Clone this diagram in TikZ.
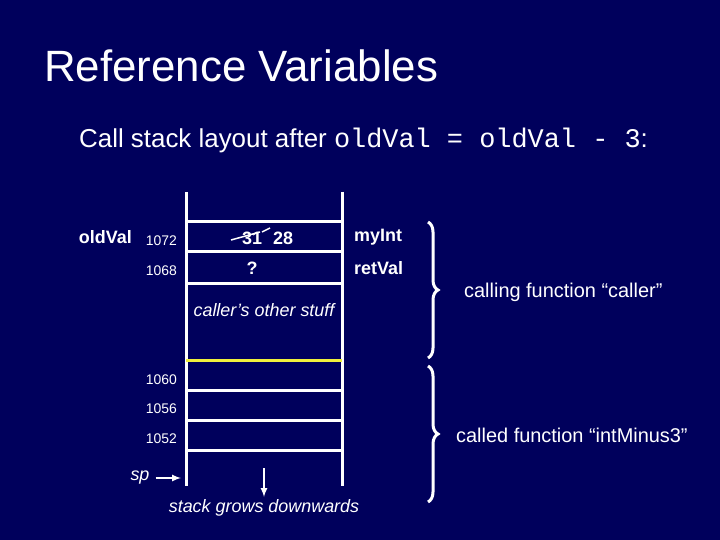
\documentclass[tikz,border=0pt]{standalone}
\usepackage{fontspec}
\setmainfont{Liberation Sans}
\setmonofont{Liberation Mono}
\usetikzlibrary{decorations.pathreplacing}
\definecolor{bg}{RGB}{0,0,92}
\definecolor{hl}{RGB}{240,240,60}
\begin{document}
\begin{tikzpicture}[x=1bp,y=-1bp,
  every node/.style={text=white,inner sep=0pt},
  sline/.style={draw=white,line width=3bp},
  addr/.style={font=\fontsize{14}{14}\selectfont,anchor=east},
  lbl/.style={font=\bfseries\fontsize{18}{18}\selectfont},
  brace/.style={draw=white,line width=3bp,decorate,decoration={brace,amplitude=10bp}},
  arr/.style={draw=white,line width=2bp,-latex}]
\fill[bg] (0,0) rectangle (720,540);
\useasboundingbox (0,0) rectangle (720,540);
\node[anchor=west,font=\fontsize{44}{44}\selectfont] (title) at (44,66) {Reference Variables};
\node[anchor=west,font=\fontsize{26}{26}\selectfont] (sub) at (79,140) {Call stack layout after \texttt{\fontsize{27}{27}\selectfont oldVal = oldVal - 3}:};
% stack
\coordinate (tl) at (186,192); \coordinate (tr) at (342,192);
\coordinate (bl) at (186,486); \coordinate (br) at (342,486);
\draw[sline] (tl) -- (bl); \draw[sline] (tr) -- (br);
\foreach \y in {222,252,283,390,420,450} \draw[sline] (186,\y) -- (342,\y);
\draw[draw=hl,line width=3bp] (186,360) -- (342,360);
% contents
\node[lbl] (v31) at (252,238) {31};
\draw[white,line width=1.5bp] (231,240) -- (260,232) (262,232) -- (270,228);
\node[lbl] (v28) at (283,238) {28};
\node[lbl] (q) at (252,268) {?};
\node[font=\itshape\fontsize{18}{18}\selectfont] (other) at (264,310) {caller’s other stuff};
\node[lbl,anchor=east] (old) at (132,237) {oldVal};
\node[addr] (a1) at (177,241) {1072};
\node[addr] (a2) at (177,271) {1068};
\node[addr] (a3) at (177,380) {1060};
\node[addr] (a4) at (177,409) {1056};
\node[addr] (a5) at (177,439) {1052};
\node[lbl,anchor=west] (myint) at (354,237) {myInt};
\node[lbl,anchor=west] (retval) at (354,268) {retVal};
% braces
\draw[brace] (428,222) -- (428,358);
\draw[brace] (428,366) -- (428,502);
\node[anchor=west,font=\fontsize{20}{20}\selectfont] (caller) at (464,292) {calling function “caller”};
\node[anchor=west,font=\fontsize{20}{20}\selectfont] (called) at (456,435) {called function “intMinus3”};
% sp and growth
\node[font=\itshape\fontsize{18}{18}\selectfont] (sp) at (140,478) {sp};
\coordinate (spend) at (181,478);
\draw[arr] (sp.east) ++(6,0) -- (spend);
\coordinate (g1) at (264,468); \coordinate (g2) at (264,497);
\draw[arr] (g1) -- (g2);
\node[font=\itshape\fontsize{18}{18}\selectfont] (grow) at (264,508) {stack grows downwards};
\end{tikzpicture}
\end{document}
